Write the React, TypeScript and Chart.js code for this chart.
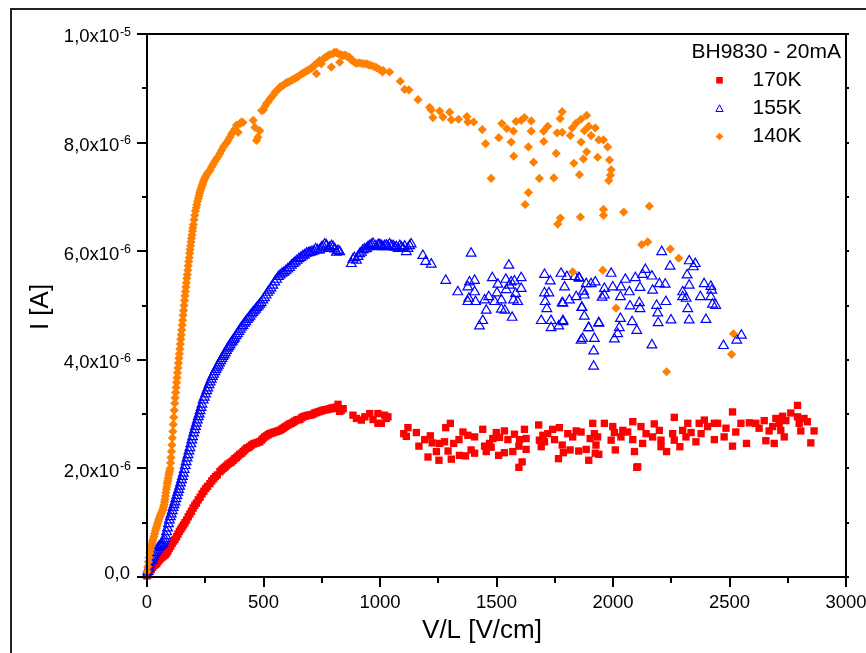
import React, { useEffect, useRef } from "react";
import { Chart, registerables } from "chart.js";

Chart.register(...registerables);

const FONT = '"Liberation Sans", Arial, Helvetica, sans-serif';

// Axis ticks
const xTicks = [0, 500, 1000, 1500, 2000, 2500, 3000];
const yTicks = [0, 2e-6, 4e-6, 6e-6, 8e-6, 1e-5];
const yTickMain = ["0,0", "2,0x10", "4,0x10", "6,0x10", "8,0x10", "1,0x10"];
const yTickExp = ["", "-6", "-6", "-6", "-6", "-5"];
const xTitle = "V/L [V/cm]";
const yTitle = "I [A]";
const legendTitle = "BH9830 - 20mA";
const seriesNames = ["170K", "155K", "140K"];
const seriesColors = ["#FF0000", "#0000FF", "#FF8000"];

// Series values: [V/L in V/cm, I in units of 1e-6 A]
const pts170: number[][] = [
  [0,0.02],[6,0.06],[12,0.1],[18,0.14],[24,0.18],[30,0.21],[36,0.23],[42,0.25],[48,0.29],[54,0.32],[60,0.35],[66,0.37],[72,0.39],[78,0.41],[84,0.44],[90,0.48],[96,0.53],[102,0.57],[108,0.62],[114,0.66],[120,0.69],[127,0.74],[133,0.79],[139,0.84],[145,0.88],[151,0.92],[157,0.96],[163,1.0],[170,1.05],[177,1.11],[184,1.16],[191,1.21],[198,1.27],[205,1.32],[212,1.36],[220,1.42],[228,1.47],[236,1.53],[244,1.58],[252,1.63],[260,1.67],[270,1.72],[278,1.77],[286,1.81],[294,1.85],[302,1.88],[313,1.94],[320,1.97],[327,2.0],[334,2.02],[341,2.05],[348,2.08],[356,2.1],[363,2.12],[370,2.15],[377,2.18],[384,2.2],[391,2.23],[398,2.26],[406,2.28],[413,2.31],[420,2.34],[427,2.37],[434,2.38],[441,2.4],[448,2.43],[456,2.45],[463,2.46],[470,2.47],[477,2.48],[484,2.49],[491,2.52],[498,2.55],[505,2.58],[513,2.6],[520,2.62],[527,2.64],[534,2.65],[541,2.66],[548,2.67],[556,2.68],[563,2.69],[570,2.7],[577,2.72],[584,2.74],[591,2.76],[598,2.78],[606,2.8],[613,2.82],[620,2.83],[627,2.85],[634,2.87],[642,2.89],[649,2.9],[656,2.9],[663,2.93],[670,2.95],[677,2.96],[685,2.97],[692,2.98],[699,2.98],[706,2.99],[713,3.0],[720,3.02],[727,3.03],[735,3.04],[742,3.05],[749,3.06],[756,3.07],[763,3.08],[770,3.08],[777,3.09],[785,3.1],[792,3.11],[799,3.12],[806,3.1],[813,3.13],[820,3.18],[827,3.05],[834,3.07],[842,3.1],
  [884,2.98],[899,2.92],[920,2.89],[935,2.95],[956,3.01],[970,2.9],[991,2.83],[991,3.01],[1006,2.83],[1020,2.98],[1027,2.92],[1034,2.95],
  [1102,2.64],[1120,2.75],[1113,2.59],[1156,2.66],[1167,2.41],[1192,2.53],[1216,2.6],[1224,2.47],[1206,2.21],[1242,2.31],[1253,2.15],[1256,2.46],[1277,2.49],[1282,2.75],[1302,2.83],[1292,2.32],[1306,2.17],[1316,2.46],[1339,2.53],[1341,2.24],[1356,2.67],[1367,2.23],[1377,2.61],[1391,2.34],[1406,2.58],[1406,2.28],[1441,2.72],[1449,2.41],[1456,2.31],[1470,2.46],[1484,2.55],[1499,2.66],[1477,2.39],[1509,2.24],[1513,2.57],[1534,2.69],[1534,2.29],[1549,2.53],[1570,2.31],[1577,2.63],[1596,2.41],[1599,2.53],[1610,2.12],[1596,2.02],[1620,2.72],[1627,2.35],[1627,2.55],[1681,2.8],[1684,2.52],[1692,2.4],[1699,2.61],[1706,2.49],[1720,2.64],[1741,2.72],[1749,2.53],[1770,2.75],[1766,2.18],[1782,2.43],[1787,2.29],[1806,2.64],[1816,2.34],[1827,2.58],[1842,2.69],[1853,2.32],[1863,2.67],[1885,2.35],[1896,2.15],[1902,2.55],[1913,2.83],[1920,2.64],[1927,2.43],[1924,2.28],[1939,2.26],[1934,2.58],[1963,2.83],[1992,2.52],[1999,2.77],[2006,2.66],[2010,2.34],[2034,2.58],[2042,2.7],[2063,2.67],[2085,2.86],[2085,2.53],[2106,2.03],
  [2092,2.31],[2102,2.02],[2120,2.77],[2127,2.46],[2142,2.64],[2170,2.58],[2177,2.82],[2199,2.7],[2206,2.52],[2206,2.4],[2230,2.31],[2256,2.64],[2263,2.94],[2263,2.52],[2287,2.4],[2299,2.7],[2313,2.58],[2321,2.83],[2335,2.66],[2356,2.49],[2370,2.83],[2378,2.64],[2392,2.89],[2406,2.77],[2435,2.83],[2435,2.53],[2449,2.83],[2477,2.58],[2485,2.74],[2513,3.04],[2513,2.41],[2527,2.67],[2549,2.83],[2573,2.46],[2585,2.84],[2613,2.83],[2627,2.74],[2649,2.88],[2656,2.51],[2670,2.69],[2685,2.77],[2692,2.46],[2699,2.92],[2713,2.83],[2720,2.7],[2728,2.96],[2735,2.58],[2742,2.88],[2763,3.02],[2792,3.16],[2792,2.95],[2799,2.83],[2806,2.69],[2820,2.92],[2834,2.86],[2849,2.47],[2863,2.69]
];

const pts155: number[][] = [
  [0,0.04],[4,0.1],[8,0.16],[12,0.22],[16,0.27],[20,0.31],[24,0.35],[28,0.38],[32,0.42],[36,0.45],[40,0.48],[44,0.51],[48,0.54],[52,0.56],[56,0.58],[60,0.59],[64,0.6],[68,0.62],[72,0.66],[76,0.7],[80,0.76],[84,0.83],[88,0.9],[92,0.98],[96,1.05],[100,1.11],[104,1.16],[108,1.22],[112,1.28],[116,1.33],[120,1.38],[124,1.44],[128,1.5],[132,1.56],[136,1.61],[140,1.67],[144,1.73],[148,1.79],[152,1.85],[156,1.91],[160,1.98],[164,2.05],[168,2.12],[172,2.19],[176,2.25],[180,2.32],[184,2.38],[188,2.45],[192,2.52],[196,2.58],[200,2.65],[204,2.71],[208,2.77],[212,2.83],[216,2.89],[220,2.95],[224,3.0],[228,3.06],[232,3.12],[236,3.18],[241,3.26],[246,3.31],[251,3.37],[256,3.43],[261,3.48],[266,3.54],[271,3.59],[276,3.64],[281,3.69],[286,3.73],[291,3.78],[296,3.82],[301,3.86],[306,3.9],[311,3.94],[316,3.98],[321,4.02],[326,4.06],[331,4.09],[336,4.13],[341,4.17],[346,4.21],[351,4.24],[356,4.27],[361,4.31],[366,4.34],[371,4.37],[376,4.4],[382,4.44],[388,4.48],[394,4.52],[400,4.56],[406,4.6],[412,4.63],[418,4.67],[424,4.7],[430,4.74],[436,4.77],[442,4.8],[448,4.84],[454,4.87],[460,4.9],[466,4.93],[472,4.96],[478,4.99],[484,5.02],[490,5.05],[497,5.1],[504,5.14],[511,5.19],[518,5.24],[525,5.28],[532,5.32],[540,5.37],[548,5.43],[556,5.48],[564,5.53],[572,5.56],[580,5.59],[588,5.61],[596,5.64],[604,5.67],[612,5.7],[620,5.74],[628,5.77],[636,5.8],[644,5.83],[652,5.86],[660,5.88],[668,5.91],[676,5.93],[685,5.96],[693,5.97],[700,5.98],[708,5.99],[716,6.0],[724,6.04],[732,6.02],[741,6.02],[749,6.07],[756,6.09],[763,6.13],[770,6.11],[778,6.05],[785,6.07],[792,6.1],[799,6.08],[806,6.04],[813,5.98],[820,6.01],[827,5.99],
  [877,5.77],[884,5.85],[890,5.88],[899,5.83],[906,5.9],[913,5.95],[920,5.98],[927,6.02],[935,6.04],[942,6.05],[949,6.08],[956,6.1],[963,6.12],[970,6.14],[978,6.1],[985,6.08],[992,6.12],[999,6.12],[1006,6.1],[1013,6.08],[1020,6.1],[1027,6.11],[1034,6.08],[1041,6.13],[1048,6.1],[1056,6.1],[1063,6.07],[1070,6.08],[1078,6.05],[1085,6.1],[1092,6.07],[1099,6.05],[1106,6.09],[1113,5.99],[1120,6.05],[1127,6.1],[1134,6.13],
  [1184,5.92],[1196,5.81],[1220,5.76],[1282,5.46],[1334,5.25],[1377,5.34],[1384,5.43],[1406,5.46],[1406,5.25],[1381,5.13],[1377,5.07],[1410,5.07],[1391,5.96],[1441,4.72],[1427,4.62],[1456,4.91],[1449,5.1],[1467,5.16],[1482,5.51],[1492,5.07],[1506,5.39],[1502,5.23],[1521,5.1],[1521,4.93],[1536,4.91],[1540,5.48],[1542,5.29],[1553,5.74],[1556,5.37],[1563,5.43],[1567,4.78],[1573,5.1],[1577,5.45],[1582,5.22],[1591,5.07],[1606,5.51],[1606,5.31],[1692,4.72],[1706,5.57],[1706,5.23],[1709,5.07],[1716,4.94],[1725,5.23],[1731,5.45],[1734,4.72],[1734,4.59],[1767,4.62],[1777,5.59],[1782,5.05],[1785,4.72],[1792,5.34],[1802,5.53],[1813,5.1],[1842,5.16],[1853,5.51],[1866,4.96],[1863,4.36],[1870,4.39],[1873,5.26],[1877,4.8],[1877,5.19],[1885,5.4],[1896,4.59],[1917,4.16],[1917,3.88],[1920,4.39],[1924,5.43],[1939,4.68],[1836,5.53],[1856,5.5],[1906,5.4],[1992,5.59],[1963,5.31],[1953,5.15],[1999,5.34],[2034,5.34],[2053,5.48],[2032,5.16],[2070,5.25],[2096,5.51],[2116,5.33],[2139,5.66],[2127,5.57],[2167,5.54],[2170,5.28],[2199,5.4],[2224,5.39],[2209,5.99],[2245,5.72],[2327,5.82],[2353,5.77],[2345,5.71],[2318,5.56],[2327,5.37],[2299,5.25],[2299,5.16],[2391,5.4],[2420,5.35],[2424,5.28],[2375,5.16],[2420,5.16],[2314,5.13],[2321,4.94],[2427,5.02],[2441,5.0],[2399,4.74],[2327,4.73],[2249,4.73],[2192,4.86],[2187,5.0],[2194,4.68],[2227,5.07],[2113,5.05],[2116,4.94],[2073,4.99],[2082,4.7],[2102,4.54],[2032,4.76],[2027,4.59],[2020,4.48],[2006,4.38],[1939,4.67],[1895,4.59],[1867,4.96],[1785,4.7],[1785,5.04],[2167,4.27],[2474,4.26],[2531,4.36],[2551,4.45],[1963,5.19]
];

const pts140: number[][] = [
  [0,0.1],[3,0.19],[6,0.28],[9,0.36],[12,0.44],[15,0.5],[18,0.56],[21,0.61],[24,0.66],[27,0.7],[30,0.75],[33,0.8],[36,0.85],[39,0.9],[42,0.94],[45,0.98],[48,1.02],[51,1.06],[54,1.1],[57,1.13],[60,1.16],[63,1.19],[66,1.22],[69,1.25],[71,1.29],[73,1.33],[75,1.38],[77,1.43],[79,1.49],[81,1.55],[83,1.61],[85,1.66],[87,1.72],[89,1.77],[91,1.82],[93,1.87],[95,1.91],[97,1.95],[99,2.0],[101,2.1],[103,2.2],[105,2.31],[107,2.43],[109,2.56],[111,2.68],[113,2.81],[115,2.94],[117,3.07],[119,3.2],[121,3.3],[123,3.4],[125,3.49],[127,3.58],[129,3.67],[131,3.76],[133,3.85],[135,3.94],[137,4.03],[139,4.11],[141,4.2],[143,4.29],[145,4.38],[147,4.46],[149,4.55],[151,4.64],[153,4.73],[155,4.82],[157,4.91],[159,5.0],[161,5.09],[163,5.18],[165,5.26],[167,5.34],[169,5.42],[171,5.5],[173,5.57],[175,5.65],[177,5.73],[179,5.81],[181,5.88],[183,5.96],[185,6.03],[187,6.1],[189,6.17],[191,6.24],[193,6.3],[195,6.37],[197,6.43],[199,6.49],[202,6.58],[205,6.66],[208,6.74],[211,6.8],[214,6.86],[217,6.92],[220,6.97],[223,7.02],[226,7.07],[229,7.11],[232,7.15],[235,7.19],[238,7.23],[241,7.27],[244,7.3],[247,7.33],[250,7.36],[254,7.39],[258,7.42],[262,7.45],[266,7.47],[270,7.49],[277,7.55],[284,7.6],[291,7.65],[298,7.7],[305,7.74],[313,7.8],[320,7.86],[328,7.92],[335,7.96],[342,8.0],[349,8.05],[356,8.1],[363,8.16],[370,8.2],[377,8.25],[384,8.32],[391,8.19],[399,8.35],[406,8.38],[412,8.37],
  [456,8.41],[463,8.28],[470,8.04],[476,8.1],[484,8.22],[492,8.59],[500,8.6],[507,8.67],[513,8.72],[520,8.75],[527,8.8],[535,8.84],[543,8.88],[550,8.93],[557,8.95],[564,8.99],[570,9.02],[578,9.04],[586,9.06],[594,9.09],[602,9.11],[610,9.12],[618,9.14],[626,9.16],[634,9.18],[642,9.2],[650,9.22],[658,9.25],[666,9.27],[674,9.29],[682,9.31],[690,9.33],[698,9.35],[705,9.37],[712,9.39],[720,9.43],[727,9.27],[733,9.47],[741,9.51],[748,9.45],[755,9.53],[762,9.56],[770,9.58],[777,9.6],[785,9.62],[791,9.39],[798,9.64],[805,9.66],[813,9.66],[820,9.64],[827,9.48],[833,9.62],[840,9.6],[848,9.61],[855,9.6],[862,9.58],[870,9.57],[877,9.52],[885,9.5],[892,9.48],[899,9.46],[910,9.47],[920,9.46],[931,9.45],[942,9.45],[952,9.43],[962,9.42],[975,9.4],[985,9.38],[997,9.35],[1011,9.3],
  [1013,9.33],[1041,9.3],[1087,9.13],[1106,8.98],[1124,8.97],[1163,8.79],[1213,8.65],[1220,8.6],[1227,8.46],[1256,8.58],[1270,8.47],[1299,8.56],[1306,8.42],[1337,8.43],[1373,8.48],[1377,8.38],[1402,8.38],[1439,8.24],[1453,7.98],[1477,7.34],[1510,8.09],[1523,8.35],[1544,8.26],[1563,8.01],[1573,8.21],[1574,7.75],[1584,8.39],[1606,8.41],[1620,8.46],[1623,6.86],[1637,7.08],[1637,7.92],[1649,8.4],[1649,8.21],[1659,7.64],[1684,7.34],[1702,8.21],[1703,8.02],[1720,8.3],[1746,7.35],[1756,7.8],[1760,8.18],[1763,6.5],[1774,6.61],[1773,8.44],[1782,8.57],[1782,8.19],[1817,8.13],[1825,8.27],[1832,7.62],[1842,8.36],[1856,7.41],[1860,6.63],[1863,8.01],[1863,8.43],[1873,7.7],[1877,8.22],[1887,7.83],[1887,8.5],[1896,8.3],[1906,8.13],[1924,8.27],[1934,7.73],[1939,8.05],[1959,8.05],[1959,6.77],[1959,6.66],[1977,7.92],[1985,7.68],[1992,7.5],[1989,7.4],[1982,7.3],[2046,6.72],[2156,6.83],[2123,6.12],[2149,6.17],[2246,6.04],[2282,5.87],[1827,5.62],[1956,5.65],[2013,4.95],[2517,4.48],[2509,4.1],[2230,3.78]
];

const toXY = (pts: number[][]) => pts.map(([x, y]) => ({ x, y: y * 1e-6 }));

const decoPlugin = {
  id: "deco",
  beforeDraw(chart: any) {
    const ctx = chart.ctx as CanvasRenderingContext2D;
    ctx.save();
    ctx.fillStyle = "#fff";
    ctx.fillRect(0, 0, chart.width, chart.height);
    ctx.strokeStyle = "#222";
    ctx.lineWidth = 2;
    ctx.strokeRect(11, 9, 1200, 1200);
    ctx.restore();
  },
  afterDatasetsDraw(chart: any) {
    const ctx = chart.ctx as CanvasRenderingContext2D;
    const a = chart.chartArea;
    const xs = chart.scales.x;
    const ys = chart.scales.y;
    ctx.save();
    ctx.strokeStyle = "#000";
    ctx.lineWidth = 2;
    ctx.strokeRect(a.left, a.top, a.right - a.left, a.bottom - a.top);
    const line = (x1: number, y1: number, x2: number, y2: number) => {
      ctx.beginPath();
      ctx.moveTo(x1, y1);
      ctx.lineTo(x2, y2);
      ctx.stroke();
    };
    // x ticks
    xTicks.forEach((v, i) => {
      const px = Math.round(xs.getPixelForValue(v));
      line(px, a.bottom, px, a.bottom + 10);
      if (i < xTicks.length - 1) {
        const pm = Math.round(xs.getPixelForValue((v + xTicks[i + 1]) / 2));
        line(pm, a.bottom, pm, a.bottom + 6);
      }
    });
    // y ticks (left & right)
    yTicks.forEach((v, i) => {
      const py = Math.round(ys.getPixelForValue(v));
      line(a.left - 10, py, a.left, py);
      line(a.right, py, a.right + 3, py);
      if (i < yTicks.length - 1) {
        const pm = Math.round(ys.getPixelForValue((v + yTicks[i + 1]) / 2));
        line(a.left - 5, pm, a.left, pm);
        line(a.right, pm, a.right + 3, pm);
      }
    });
    ctx.fillStyle = "#000";
    // x labels
    ctx.font = `18.5px ${FONT}`;
    ctx.textAlign = "center";
    ctx.textBaseline = "middle";
    xTicks.forEach((v) => {
      ctx.fillText(String(v), xs.getPixelForValue(v), a.bottom + 26);
    });
    // y labels
    const rightEdge = a.left - 16;
    yTicks.forEach((v, i) => {
      const py = ys.getPixelForValue(v);
      ctx.textAlign = "right";
      if (yTickExp[i]) {
        ctx.font = `12.5px ${FONT}`;
        const w = ctx.measureText(yTickExp[i]).width;
        ctx.fillText(yTickExp[i], rightEdge, py - 1.6);
        ctx.font = `18.5px ${FONT}`;
        ctx.fillText(yTickMain[i], rightEdge - w - 0.5, py + 3.3);
      } else {
        ctx.font = `18.5px ${FONT}`;
        ctx.fillText(yTickMain[i], rightEdge - 1, py - 3);
      }
    });
    // axis titles
    ctx.font = `26px ${FONT}`;
    ctx.textAlign = "center";
    ctx.fillText(xTitle, 482, 631);
    ctx.save();
    ctx.translate(41, 307);
    ctx.rotate(-Math.PI / 2);
    ctx.fillText(yTitle, 0, 0);
    ctx.restore();
    // legend
    ctx.font = `21px ${FONT}`;
    ctx.textAlign = "left";
    ctx.fillText(legendTitle, 691.5, 52.5);
    const ly = [80.3, 108.6, 136.5];
    const mx = 719.5;
    seriesNames.forEach((name, i) => {
      ctx.fillStyle = "#000";
      ctx.fillText(name, 752.5, ly[i]);
      ctx.fillStyle = seriesColors[i];
      ctx.strokeStyle = seriesColors[i];
      if (i === 0) {
        ctx.fillRect(mx - 3.3, ly[i] - 3.3, 6.6, 6.6);
      } else if (i === 1) {
        ctx.lineWidth = 1;
        ctx.beginPath();
        ctx.moveTo(mx, ly[i] - 3.8);
        ctx.lineTo(mx + 3.6, ly[i] + 2.9);
        ctx.lineTo(mx - 3.6, ly[i] + 2.9);
        ctx.closePath();
        ctx.stroke();
      } else {
        ctx.beginPath();
        ctx.moveTo(mx, ly[i] - 3.8);
        ctx.lineTo(mx + 3.8, ly[i]);
        ctx.lineTo(mx, ly[i] + 3.8);
        ctx.lineTo(mx - 3.8, ly[i]);
        ctx.closePath();
        ctx.fill();
      }
    });
    ctx.restore();
  },
};

export default function App() {
  const ref = useRef<HTMLCanvasElement>(null);
  useEffect(() => {
    const chart = new Chart(ref.current as HTMLCanvasElement, {
      type: "scatter",
      data: {
        datasets: [
          {
            label: seriesNames[0],
            data: toXY(pts170),
            pointStyle: "rect",
            pointRadius: 5.2,
            backgroundColor: seriesColors[0],
            borderColor: seriesColors[0],
            borderWidth: 0,
            clip: false,
            order: 3,
          },
          {
            label: seriesNames[1],
            data: toXY(pts155),
            pointStyle: "triangle",
            pointRadius: 5.6,
            backgroundColor: "rgba(0,0,0,0)",
            borderColor: seriesColors[1],
            borderWidth: 1.2,
            clip: false,
            order: 2,
          },
          {
            label: seriesNames[2],
            data: toXY(pts140),
            pointStyle: "rectRot",
            pointRadius: 4.6,
            backgroundColor: seriesColors[2],
            borderColor: seriesColors[2],
            borderWidth: 0,
            clip: false,
            order: 1,
          },
        ] as any,
      },
      options: {
        animation: false,
        responsive: false,
        maintainAspectRatio: false,
        events: [],
        layout: { padding: { left: 147, right: 20, top: 34, bottom: 76 } },
        scales: {
          x: { type: "linear", min: 0, max: 3000, display: false },
          y: { type: "linear", min: 0, max: 1e-5, display: false },
        },
        plugins: { legend: { display: false }, tooltip: { enabled: false } },
      },
      plugins: [decoPlugin],
    });
    return () => chart.destroy();
  }, []);
  return (
    <div style={{ position: "fixed", left: 0, top: 0, width: 866, height: 653, background: "#fff" }}>
      <canvas ref={ref} width={866} height={653} style={{ display: "block", width: 866, height: 653 }} />
    </div>
  );
}
